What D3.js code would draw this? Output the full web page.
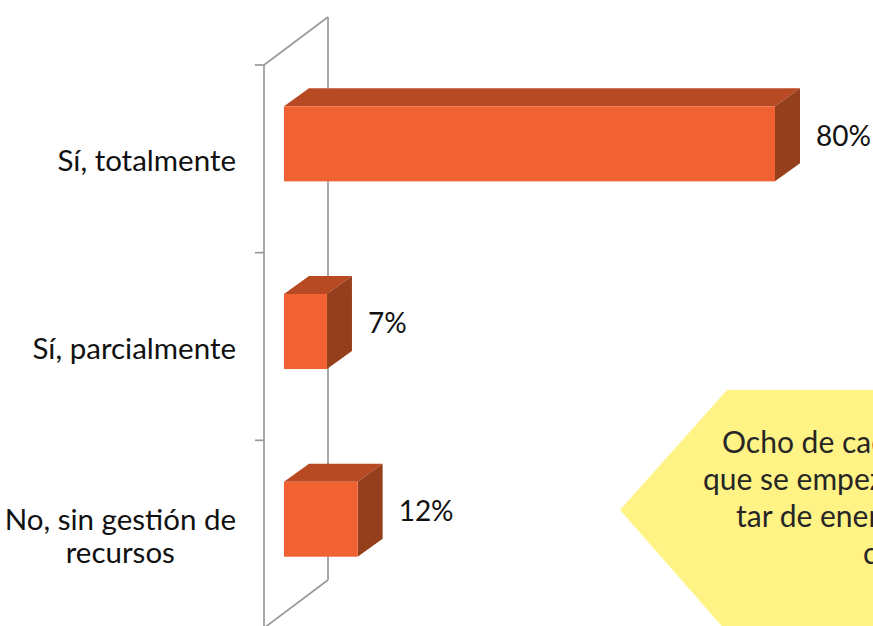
<!DOCTYPE html>
<html>
<head>
<meta charset="utf-8">
<script src="https://cdn.jsdelivr.net/npm/d3@7"></script>
<style>
  html, body { margin: 0; padding: 0; background: #fff; overflow: hidden; }
  svg { display: block; }
</style>
</head>
<body>
<div id="chart"></div>
<script>
// chart values
const categories = ['Sí, totalmente', 'Sí, parcialmente', 'No, sin gestión de recursos'];
const categoryLines = [['Sí, totalmente'], ['Sí, parcialmente'], ['No, sin gestión de', 'recursos']];
const values = [80, 7, 12];
const valueLabels = ['80%', '7%', '12%'];
const calloutLines = ['Ocho de cada diez encuestados', 'que se empezaron a implemen-', 'tar de energía renovable en', 'casa.'];

const W = 873, H = 626;
const font = 'Lato, "Open Sans", sans-serif';

const svg = d3.select('#chart').append('svg')
    .attr('width', W)
    .attr('height', H);

// front plane of the 3D box
const axisX = 264;
const depth = {dx: 64, dy: -48};      // full floor depth
const barShift = {dx: 20, dy: -15};   // bars sit part way into the depth
const barDepth = {dx: 25, dy: -18};

const yScale = d3.scaleBand()
    .domain(categories)
    .range([65, 628])
    .paddingInner(0.6)
    .paddingOuter(0.3);

const xScale = d3.scaleLinear()
    .domain([0, 80])
    .range([axisX, axisX + 491]);

// wall / frame lines
const frame = svg.append('g').attr('stroke', '#999').attr('stroke-width', 1.7).attr('fill', 'none');
const [y0, y1] = yScale.range();
frame.append('line').attr('x1', axisX).attr('y1', y0).attr('x2', axisX).attr('y2', y1 + 20);
frame.append('line')
    .attr('x1', axisX + depth.dx).attr('y1', y0 + depth.dy)
    .attr('x2', axisX + depth.dx).attr('y2', y1 + depth.dy);
frame.append('line')
    .attr('x1', axisX).attr('y1', y0)
    .attr('x2', axisX + depth.dx).attr('y2', y0 + depth.dy);
frame.append('line')
    .attr('x1', axisX + depth.dx).attr('y1', y1 + depth.dy)
    .attr('x2', axisX).attr('y2', y1);

// ticks between categories
const step = yScale.step();
const tickYs = d3.range(categories.length + 1).map(i => y0 + i * step);
frame.selectAll('line.tick')
    .data(tickYs)
    .enter()
    .append('line')
    .attr('class', 'tick')
    .attr('x1', axisX - 9).attr('x2', axisX)
    .attr('y1', d => d).attr('y2', d => d);

// bars
const bars = svg.selectAll('g.bar')
    .data(categories.map((c, i) => ({cat: c, value: values[i], label: valueLabels[i]})))
    .enter()
    .append('g')
    .attr('class', 'bar');

function fx(d) { return xScale(0) + barShift.dx; }
function fw(d) { return xScale(d.value) - xScale(0); }
function fy(d) { return yScale(d.cat) + barShift.dy; }
const bh = yScale.bandwidth();

// top face
bars.append('path')
    .attr('fill', '#b84a23')
    .attr('d', d => {
        const x = fx(d), y = fy(d), w = fw(d);
        return `M${x},${y} L${x + barDepth.dx},${y + barDepth.dy} L${x + w + barDepth.dx},${y + barDepth.dy} L${x + w},${y} Z`;
    });
// side face
bars.append('path')
    .attr('fill', '#953f1d')
    .attr('d', d => {
        const x = fx(d) + fw(d), y = fy(d);
        return `M${x},${y} L${x + barDepth.dx},${y + barDepth.dy} L${x + barDepth.dx},${y + bh + barDepth.dy} L${x},${y + bh} Z`;
    });
// front face
bars.append('rect')
    .attr('fill', '#f16232')
    .attr('x', fx)
    .attr('y', fy)
    .attr('width', fw)
    .attr('height', bh);

// value labels
bars.append('text')
    .attr('x', d => fx(d) + fw(d) + barDepth.dx + 16)
    .attr('y', d => fy(d) + bh / 2 + barDepth.dy / 2 + 1)
    .attr('dy', '0.35em')
    .attr('font-family', font)
    .attr('font-size', 28)
    .attr('fill', '#111')
    .text(d => d.label);

// category labels: block right-aligned, lines centred inside the block
const labelRight = 236;
const lineH = 33;
categoryLines.forEach((lines, i) => {
    const cy = yScale(categories[i]) + bh / 2 + 2;
    const g = svg.append('g');
    const ts = g.selectAll('text')
        .data(lines)
        .enter()
        .append('text')
        .attr('font-family', font)
        .attr('font-size', 29.5)
        .attr('fill', '#111')
        .attr('text-anchor', 'middle')
        .attr('dy', '0.35em')
        .attr('y', (d, j) => cy + (j - (lines.length - 1) / 2) * lineH)
        .text(d => d);
    const maxW = d3.max(ts.nodes(), n => n.getComputedTextLength());
    ts.attr('x', labelRight - maxW / 2);
});

// callout (runs off the right edge of the page, as in the original)
const callout = svg.append('g');
const cl = 620, ct = 390, cm = 510, cb = 632, ck = 107;
callout.append('path')
    .attr('fill', '#fff385')
    .attr('d', `M${cl},${cm} L${cl + ck},${ct} L${W + 200},${ct} L${W + 200},${cb} L${cl + ck},${cb} Z`);
const calloutX = [722, 703, 736, 863];
callout.selectAll('text')
    .data(calloutLines)
    .enter()
    .append('text')
    .attr('x', (d, i) => calloutX[i])
    .attr('y', (d, i) => 453 + i * 37)
    .attr('font-family', font)
    .attr('font-size', 30)
    .attr('fill', '#262626')
    .text(d => d);
</script>
</body>
</html>
